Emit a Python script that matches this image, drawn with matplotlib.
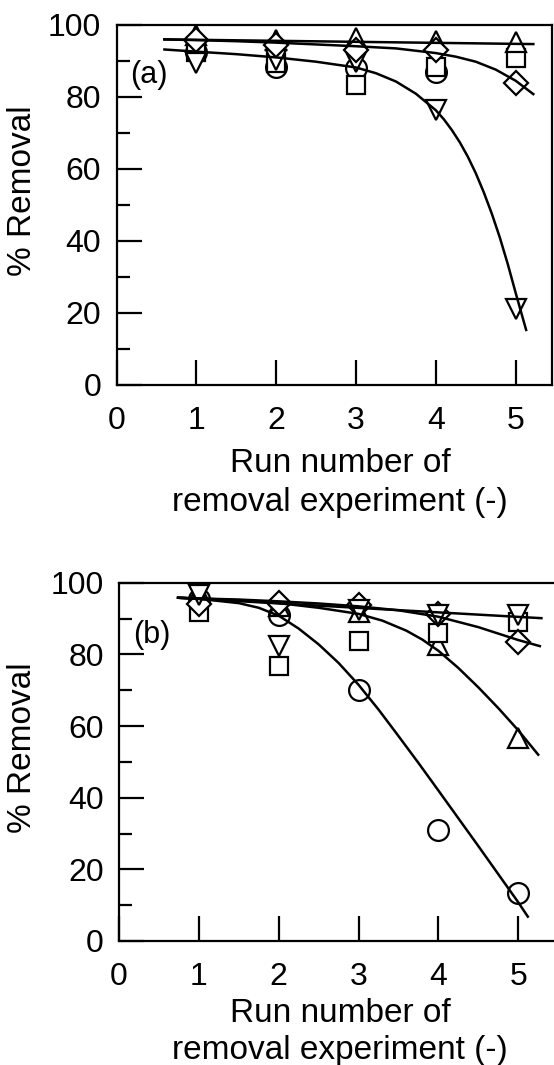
import numpy as np
import matplotlib
matplotlib.use("Agg")
import matplotlib.pyplot as plt

plt.rcParams["font.family"] = ["Liberation Sans", "DejaVu Sans"]

runs = [1, 2, 3, 4, 5]

# ---------------------------------------------------------
# Panel (a): measured % removal per run
# ---------------------------------------------------------
a_diamond = [95.8, 94.4, 93.0, 93.0, 84.0]
a_circle = [92.6, 88.4, 88.0, 87.0, np.nan]
a_square = [92.5, 89.5, 83.3, 88.4, 90.8]
a_tri_up = [97.2, 95.8, 96.4, 95.5, 95.3]
a_tri_down = [89.4, 90.3, 89.8, 76.4, 21.1]

# fitted curves
a_fit1_x = [0.6, 5.22]
a_fit1_y = [96.0, 94.7]
a_fit2_x = [0.6, 1.0, 1.5, 2.0, 2.5, 3.0, 3.5, 4.0, 4.25, 4.5, 4.75, 5.0, 5.22]
a_fit2_y = [96.0, 95.8, 95.5, 95.1, 94.6, 94.1, 93.5, 92.2, 91.2, 89.8, 87.6, 84.5, 80.8]
a_fit3_x = [0.6, 1.0, 1.5, 2.0, 2.5, 3.0, 3.25, 3.5, 3.75, 4.0, 4.1, 4.2, 4.3, 4.4,
            4.5, 4.6, 4.7, 4.8, 4.9, 5.0, 5.13]
a_fit3_y = [93.2, 92.6, 91.9, 91.0, 89.8, 88.2, 86.6, 84.3, 80.9, 76.3, 73.8, 70.8, 67.4, 63.4,
            58.8, 53.5, 47.6, 41.0, 33.6, 25.5, 15.3]

# ---------------------------------------------------------
# Panel (b)
# ---------------------------------------------------------
b_diamond = [94.0, 94.4, 93.7, 91.2, 83.5]
b_circle = [95.5, 90.9, 70.1, 31.1, 13.3]
b_square = [91.8, 76.8, 83.7, 85.9, 89.1]
b_tri_up = [97.4, 93.5, 91.8, 82.5, 56.6]
b_tri_down = [96.5, 82.2, 92.5, 91.0, 91.0]

b_fit1_x = [0.74, 5.29]
b_fit1_y = [95.8, 90.1]
b_fit2_x = [0.74, 1.0, 1.5, 2.0, 2.5, 3.0, 3.5, 4.0, 4.5, 5.0, 5.27]
b_fit2_y = [95.8, 95.6, 95.3, 94.8, 94.2, 93.4, 92.3, 90.5, 87.6, 84.0, 82.3]
b_fit3_x = [0.74, 1.0, 1.5, 2.0, 2.5, 3.0, 3.3, 3.6, 3.8, 4.0, 4.25, 4.5, 4.75, 5.0, 5.25]
b_fit3_y = [95.8, 95.6, 95.1, 94.3, 93.0, 91.3, 89.4, 86.6, 84.1, 81.0, 76.2, 70.8, 65.0, 58.8, 52.0]
b_fit4_x = [0.74, 1.0, 1.5, 1.75, 2.0, 2.25, 2.5, 2.75, 3.0, 3.25, 3.5, 3.75, 4.0, 4.5, 5.0, 5.12]
b_fit4_y = [95.8, 95.5, 94.3, 93.0, 90.8, 87.2, 82.8, 77.6, 71.5, 64.6, 57.2, 49.7, 42.0, 26.5, 10.8, 6.8]

W, H = 554, 1065
fig = plt.figure(figsize=(W / 100, H / 100), dpi=100)

# axes boxes in pixels: left, top, right, bottom
boxes = {"a": (116.5, 25, 552, 385), "b": (119, 582.7, 557, 941)}

mk = dict(linestyle="none", color="black", mfc="white", mew=1.6)


def make_axes(key, label_gap, spacing):
    l, t, r, b = boxes[key]
    ax = fig.add_axes([l / W, 1 - b / H, (r - l) / W, (b - t) / H])
    ax.set_xlim(0, (r - l) / 79.85)
    ax.set_ylim(0, 100)
    ax.set_xticks([0, 1, 2, 3, 4, 5])
    ax.set_yticks([0, 20, 40, 60, 80, 100])
    ax.set_yticks([10, 30, 50, 70, 90], minor=True)
    ax.tick_params(axis="both", which="both", direction="in", width=1.6,
                   labelsize=23, top=False, right=False)
    ax.tick_params(axis="y", which="major", length=18, pad=11)
    ax.tick_params(axis="y", which="minor", length=9.5)
    ax.tick_params(axis="x", which="major", length=18, pad=15)
    for s in ax.spines.values():
        s.set_linewidth(1.6)
    ax.set_xlabel("Run number of\nremoval experiment (-)", fontsize=24, linespacing=spacing)
    ax.xaxis.set_label_coords((340 - l) / (r - l), -(label_gap / (b - t)))
    ax.set_ylabel("% Removal", fontsize=24)
    ax.yaxis.set_label_coords((38 - l) / (r - l), 0.54)
    return ax


# ---------------- (a) ----------------
ax = make_axes("a", 63, 1.35)
ax.plot(runs, a_circle, marker="o", ms=15, zorder=3, **mk)
ax.plot(runs, a_square, marker="s", ms=12.5, zorder=4, **mk)
ax.plot(runs, a_tri_down, marker="v", ms=15, zorder=5, **mk)
ax.plot(runs, a_tri_up, marker="^", ms=15, zorder=6, **mk)
ax.plot(runs, a_diamond, marker="D", ms=12, zorder=7, **mk)
for fx, fy in [(a_fit1_x, a_fit1_y), (a_fit2_x, a_fit2_y), (a_fit3_x, a_fit3_y)]:
    ax.plot(fx, fy, color="black", lw=1.8, zorder=8)
ax.text(0.17, 86, "(a)", fontsize=22, ha="left", va="center")

# ---------------- (b) ----------------
ax = make_axes("b", 57, 1.25)
ax.plot(runs, b_circle, marker="o", ms=15, zorder=3, **mk)
ax.plot(runs, b_tri_up, marker="^", ms=15, zorder=4, **mk)
ax.plot(runs, b_square, marker="s", ms=12.5, zorder=5, **mk)
ax.plot(runs, b_diamond, marker="D", ms=12, zorder=6, **mk)
ax.plot(runs, b_tri_down, marker="v", ms=15, zorder=7, **mk)
for fx, fy in [(b_fit1_x, b_fit1_y), (b_fit2_x, b_fit2_y),
               (b_fit3_x, b_fit3_y), (b_fit4_x, b_fit4_y)]:
    ax.plot(fx, fy, color="black", lw=1.8, zorder=8)
ax.text(0.175, 85.5, "(b)", fontsize=22, ha="left", va="center")

fig.savefig("out.png", dpi=100)
